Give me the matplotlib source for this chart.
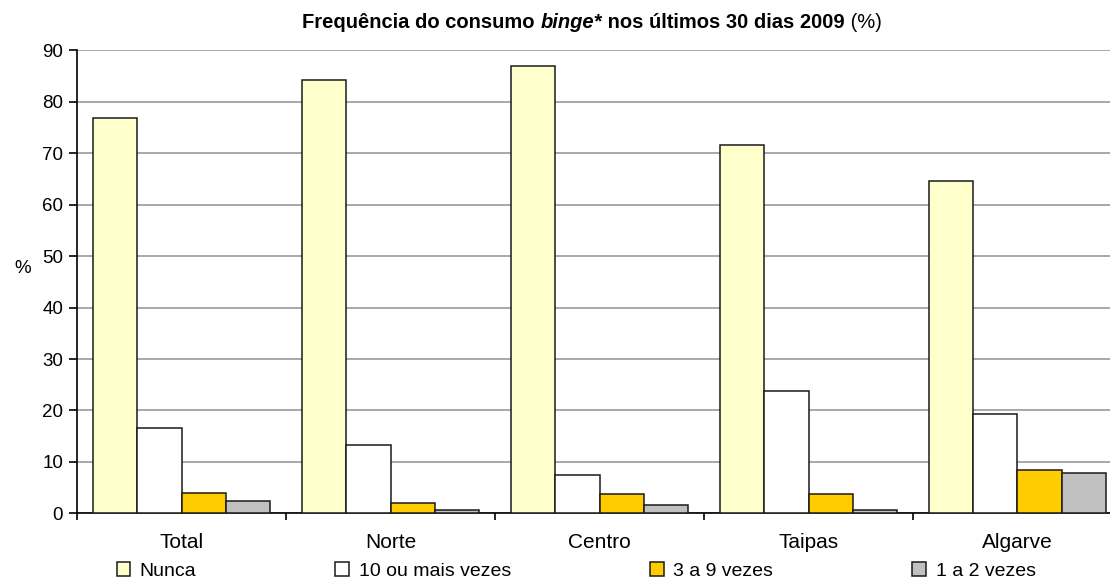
import numpy as np
import matplotlib
matplotlib.use("Agg")
from matplotlib import pyplot as plt

plt.rcParams['font.family'] = ['Liberation Sans', 'DejaVu Sans']

# Datos
regioes = ['Total', 'Norte', 'Centro', 'Taipas', 'Algarve']
series = ['Nunca', '10 ou mais vezes', '3 a 9 vezes', '1 a 2 vezes']
nunca = [76.9, 84.3, 87.0, 71.7, 64.7]
dez_mais = [16.6, 13.2, 7.4, 23.7, 19.3]
tres_nove = [4.0, 2.0, 3.7, 3.7, 8.5]
um_dois = [2.3, 0.7, 1.6, 0.7, 7.8]
cores = ['#FFFFCC', '#FFFFFF', '#FFCC00', '#C0C0C0']

valores = [nunca, dez_mais, tres_nove, um_dois]

fig = plt.figure(figsize=(11.1, 5.8), dpi=100)
ax = fig.add_axes([0.0694, 0.115, 0.9414, 0.798])

x = np.arange(len(regioes))
w = 0.212
for k, (vals, c, nome) in enumerate(zip(valores, cores, series)):
    ax.bar(x + (k - 1.5) * w, vals, w, color=c, edgecolor='#1a1a1a',
           linewidth=1.1, label=nome, zorder=3)

ax.set_xlim(-0.5, len(regioes) - 0.5)
ax.set_ylim(0, 90)
ax.set_yticks(range(0, 91, 10))
ax.yaxis.grid(True, color='#999999', linewidth=1.2, zorder=0)
ax.set_axisbelow(True)

# ticks entre categorias
ax.set_xticks(x)
ax.set_xticklabels(regioes, fontsize=15)
ax.set_xticks(np.arange(-0.5, len(regioes), 1), minor=True)
ax.tick_params(axis='x', which='major', length=0, pad=14)
ax.tick_params(axis='x', which='minor', length=5, width=1.2, direction='out')
ax.tick_params(axis='y', length=6, width=1.2, labelsize=13.5, direction='out', pad=4)

for s in ['top', 'right']:
    ax.spines[s].set_visible(False)
ax.spines['left'].set_linewidth(1.2)
ax.spines['bottom'].set_linewidth(1.2)

ax.set_ylabel('%', fontsize=13.5, rotation=0)
ax.yaxis.set_label_coords(-0.052, 0.51)

# Título em partes (bold, itálico, normal)
tam = 14.5
t1 = fig.text(0, 0.961, 'Frequência do consumo ', fontsize=tam, fontweight='bold', va='center')
t2 = ax.annotate('binge*', xy=(1, 0), xycoords=t1, fontsize=tam, fontweight='bold',
                 style='italic', va='bottom', ha='left')
t3 = ax.annotate(' nos últimos 30 dias 2009', xy=(1, 0), xycoords=t2, fontsize=tam,
                 fontweight='bold', va='bottom', ha='left')
t4 = ax.annotate(' (%)', xy=(1, 0), xycoords=t3, fontsize=tam, va='bottom', ha='left')
fig.canvas.draw()
r = fig.canvas.get_renderer()
largura = sum(t.get_window_extent(r).width for t in [t1, t2, t3, t4])
t1.set_x((592 - largura / 2) / fig.bbox.width)

leg = fig.legend(loc='center', bbox_to_anchor=(0.519, 0.015), ncol=4, frameon=False,
                 fontsize=14, handlelength=0.7, handleheight=0.7,
                 handletextpad=0.5, columnspacing=7.15, borderaxespad=0)

fig.savefig('out.png', dpi=100)
